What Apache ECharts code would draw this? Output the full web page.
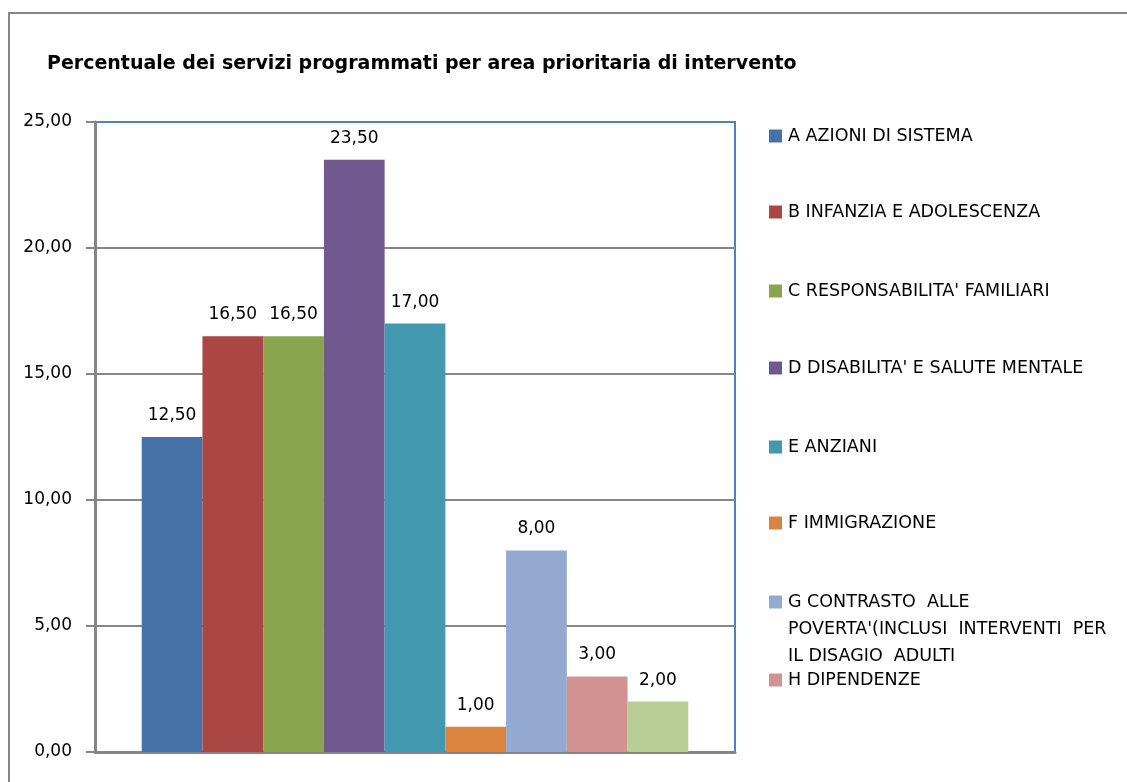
<!DOCTYPE html>
<html>
<head>
<meta charset="utf-8">
<script src="https://cdn.jsdelivr.net/npm/echarts@6/dist/echarts.min.js"></script>
<style>
html,body{margin:0;padding:0;background:#fff;}
#chart{width:1127px;height:782px;}
</style>
</head>
<body>
<div id="chart"></div>
<script>
const titleText = 'Percentuale dei servizi programmati per area prioritaria di intervento';
const categories = [''];
const seriesNames = [
  'A AZIONI DI SISTEMA',
  'B INFANZIA E ADOLESCENZA',
  "C RESPONSABILITA' FAMILIARI",
  "D DISABILITA' E SALUTE MENTALE",
  'E ANZIANI',
  'F IMMIGRAZIONE',
  "G CONTRASTO ALLE POVERTA'(INCLUSI INTERVENTI PER IL DISAGIO ADULTI",
  'H DIPENDENZE',
  'I'
];
const seriesValues = [12.5, 16.5, 16.5, 23.5, 17.0, 1.0, 8.0, 3.0, 2.0];
const seriesColors = ['#4572A7', '#AA4643', '#89A54E', '#71588F', '#4198AF', '#DB843D', '#93A9CF', '#D19392', '#B9CD96'];
const yTicks = [0, 5, 10, 15, 20, 25];
const legendCenters = [136, 212, 291, 368, 447, 523, 602, 680];

const fmt = v => Number(v).toFixed(2).replace('.', ',');
const FONT = 'DejaVu Sans';
const LH = 27;

const legends = legendCenters.map((c, i) => {
  const isG = i === 6;
  return {
    show: true,
    data: [seriesNames[i]],
    left: 769,
    top: isG ? c - 2.5 * LH : c - LH / 2,
    padding: 0,
    itemWidth: 13,
    itemHeight: 13,
    itemGap: 0,
    icon: 'rect',
    orient: 'vertical',
    selectedMode: false,
    formatter: isG ? function () {
      return "\n\nG CONTRASTO  ALLE\nPOVERTA'(INCLUSI  INTERVENTI  PER\nIL DISAGIO  ADULTI";
    } : '{name}',
    textStyle: { fontFamily: FONT, fontSize: 17.5, color: '#000', lineHeight: LH, padding: [0, 0, 0, 1] }
  };
});

const chart = echarts.init(document.getElementById('chart'), null, { renderer: 'canvas' });
chart.setOption({
  animation: false,
  backgroundColor: '#fff',
  title: {
    text: titleText,
    left: 47,
    top: 55,
    padding: 0,
    textStyle: { fontFamily: FONT, fontSize: 19, fontWeight: 'bold', color: '#000' }
  },
  legend: legends,
  graphic: [{
    type: 'rect',
    shape: { x: 9, y: 13, width: 1200, height: 900 },
    style: { fill: 'none', stroke: '#868686', lineWidth: 2 },
    silent: true,
    z: -10
  }],
  grid: {
    left: 95, right: 1127 - 735, top: 122, bottom: 782 - 752,
    show: true, borderColor: '#4F81BD', borderWidth: 2, backgroundColor: '#fff',
    containLabel: false
  },
  xAxis: {
    type: 'category',
    data: categories,
    axisLine: { show: true, lineStyle: { color: '#868686', width: 3 } },
    axisTick: { show: false },
    axisLabel: { show: false },
    splitLine: { show: false }
  },
  yAxis: {
    type: 'value',
    min: yTicks[0],
    max: yTicks[yTicks.length - 1],
    interval: 5,
    axisLine: { show: true, lineStyle: { color: '#868686', width: 3 } },
    axisTick: { show: true, length: 9, lineStyle: { color: '#868686', width: 2 } },
    axisLabel: { formatter: fmt, fontFamily: FONT, fontSize: 17, color: '#000', margin: 23 },
    splitLine: { show: true, showMaxLine: false, lineStyle: { color: '#868686', width: 2 } }
  },
  series: seriesNames.map((n, i) => ({
    name: n,
    type: 'bar',
    data: [seriesValues[i]],
    barGap: '0%',
    barCategoryGap: '14.6%',
    itemStyle: { color: seriesColors[i] },
    label: {
      show: true, position: 'top', distance: 13,
      formatter: p => fmt(p.value),
      fontFamily: FONT, fontSize: 17, color: '#000'
    }
  }))
});
</script>
</body>
</html>
